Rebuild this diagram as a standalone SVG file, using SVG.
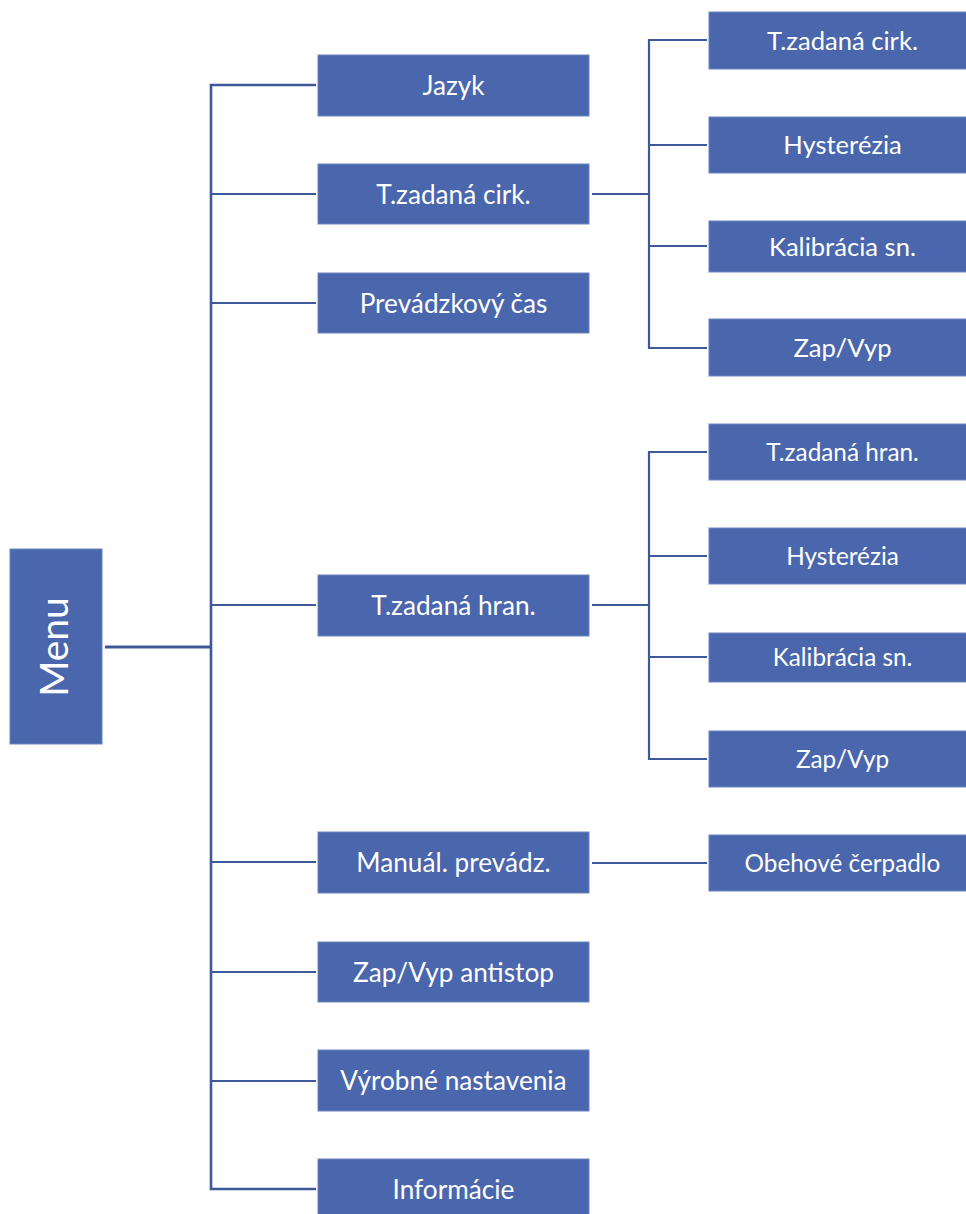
<svg xmlns="http://www.w3.org/2000/svg" width="966" height="1214" viewBox="0 0 966 1214">
<style>
.box{fill:#4A66AC;stroke:#6B84C0;stroke-width:1}
.t{font-family:Lato,"Open Sans",sans-serif;fill:#FFFFFF;text-anchor:middle}
.l1{font-size:26.2px}
.l2{font-size:25.6px}
.l3{font-size:24.3px}
.c{fill:none;stroke:#3E5899;stroke-width:2.2}
</style>
<rect width="966" height="1214" fill="#FFFFFF"/>
<g id="connectors">
<path class="c" d="M105 647H211" style="stroke-width:3"/>
<path class="c" d="M316 85H211V1189H316" style="stroke-width:2.6"/>
<path class="c" d="M211 194H316M211 303H316M211 605H316M211 862H316M211 972H316M211 1081H316"/>
<path class="c" d="M592 194H649M707 40H649V348H707M649 145H707M649 246H707"/>
<path class="c" d="M592 605H649M707 452H649V759H707M649 556H707M649 657H707"/>
<path class="c" d="M592 863H707"/>
</g>
<g id="menu"><rect class="box" x="10" y="549" width="92" height="195"/><text class="t" transform="translate(68,647) rotate(-90)" style="font-size:39px">Menu</text></g>
<g id="jazyk"><rect class="box" x="318" y="55" width="271" height="61"/><text class="t l1" x="453.5" y="95">Jazyk</text></g>
<g id="tzad-cirk"><rect class="box" x="318" y="164" width="271" height="60"/><text class="t l1" x="453.5" y="203.5">T.zadaná cirk.</text></g>
<g id="prev-cas"><rect class="box" x="318" y="273" width="271" height="60"/><text class="t l1" x="453.5" y="312.5">Prevádzkový čas</text></g>
<g id="tzad-hran"><rect class="box" x="318" y="575" width="271" height="61"/><text class="t l1" x="453.5" y="614.5">T.zadaná hran.</text></g>
<g id="manual"><rect class="box" x="318" y="832" width="271" height="61"/><text class="t l1" x="453.5" y="871.5">Manuál. prevádz.</text></g>
<g id="antistop"><rect class="box" x="318" y="942" width="271" height="60"/><text class="t l1" x="453.5" y="981.5">Zap/Vyp antistop</text></g>
<g id="vyrobne"><rect class="box" x="318" y="1050" width="271" height="61"/><text class="t l1" x="453.5" y="1089.5">Výrobné nastavenia</text></g>
<g id="informacie"><rect class="box" x="318" y="1159" width="271" height="60"/><text class="t l1" x="453.5" y="1198.5">Informácie</text></g>
<g id="c-tzad"><rect class="box" x="709" y="12" width="267" height="57"/><text class="t l2" x="842.5" y="49.5">T.zadaná cirk.</text></g>
<g id="c-hyst"><rect class="box" x="709" y="117" width="267" height="56"/><text class="t l2" x="842.5" y="154">Hysterézia</text></g>
<g id="c-kal"><rect class="box" x="709" y="221" width="267" height="51"/><text class="t l2" x="842.5" y="255.5">Kalibrácia sn.</text></g>
<g id="c-zap"><rect class="box" x="709" y="319" width="267" height="57"/><text class="t l2" x="842.5" y="357">Zap/Vyp</text></g>
<g id="h-tzad"><rect class="box" x="709" y="424" width="267" height="56"/><text class="t l3" x="842.5" y="461">T.zadaná hran.</text></g>
<g id="h-hyst"><rect class="box" x="709" y="528" width="267" height="56"/><text class="t l3" x="842.5" y="565">Hysterézia</text></g>
<g id="h-kal"><rect class="box" x="709" y="633" width="267" height="49"/><text class="t l3" x="842.5" y="666">Kalibrácia sn.</text></g>
<g id="h-zap"><rect class="box" x="709" y="731" width="267" height="56"/><text class="t l3" x="842.5" y="768">Zap/Vyp</text></g>
<g id="obehove"><rect class="box" x="709" y="835" width="267" height="56"/><text class="t l3" x="842.5" y="872">Obehové čerpadlo</text></g>
</svg>
